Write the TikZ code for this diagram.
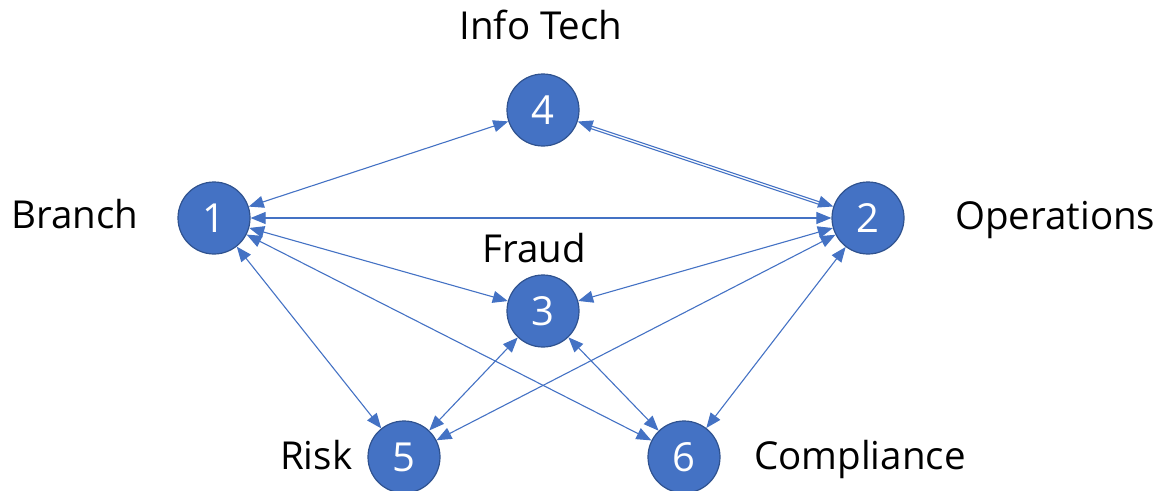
\documentclass[tikz,border=0pt]{standalone}
\usepackage{fontspec}
\setmainfont{Open Sans}
\usetikzlibrary{arrows.meta}
\definecolor{nodefill}{HTML}{4472C4}
\definecolor{nodeline}{HTML}{2F528F}
\definecolor{linkcol}{HTML}{4472C4}
\tikzset{
  unit/.style={circle, fill=nodefill, draw=nodeline, line width=1.2pt,
    minimum size=72pt, inner sep=0pt, text=white,
    font=\fontsize{40}{44}\selectfont},
  tag/.style={inner sep=0pt, text=black, font=\fontsize{38.5}{42}\selectfont},
  link/.style={draw=linkcol, line width=1.1pt,
    {Triangle[length=15pt,width=12pt]}-{Triangle[length=15pt,width=12pt]}},
}
\begin{document}
\begin{tikzpicture}[x=1pt,y=-1pt]
\useasboundingbox (0,0) rectangle (1161,490);

% department nodes
\node[unit] (n1) at (214,218) {1};
\node[unit] (n2) at (868,218) {2};
\node[unit] (n3) at (543,311) {3};
\node[unit] (n4) at (543,110) {4};
\node[unit] (n5) at (404,457) {5};
\node[unit] (n6) at (684,457) {6};

% department names
\node[tag, anchor=base] (t4) at (541,39) {Info Tech};
\node[tag, anchor=base west] (t1) at (11,228) {Branch};
\node[tag, anchor=base west] (t2) at (955,229) {Operations};
\node[tag, anchor=base] (t3) at (534,262) {Fraud};
\node[tag, anchor=base west] (t5) at (280,469) {Risk};
\node[tag, anchor=base west] (t6) at (754,469) {Compliance};

% links between departments
\draw[link] (n1) -- (n4);
\draw[link] (n4) -- (n2);
\draw[draw=linkcol, line width=1.1pt, transform canvas={shift={(-0.8pt,-2.4pt)}},
  shorten <=10pt, shorten >=10pt] (n4) -- (n2);
\draw[link] (n1) -- (n2);
\draw[link] (n1) -- (n3);
\draw[link] (n2) -- (n3);
\draw[link] (n1) -- (n5);
\draw[link] (n1) -- (n6);
\draw[link] (n2) -- (n5);
\draw[link] (n2) -- (n6);
\draw[link] (n3) -- (n5);
\draw[link] (n3) -- (n6);
\end{tikzpicture}
\end{document}
